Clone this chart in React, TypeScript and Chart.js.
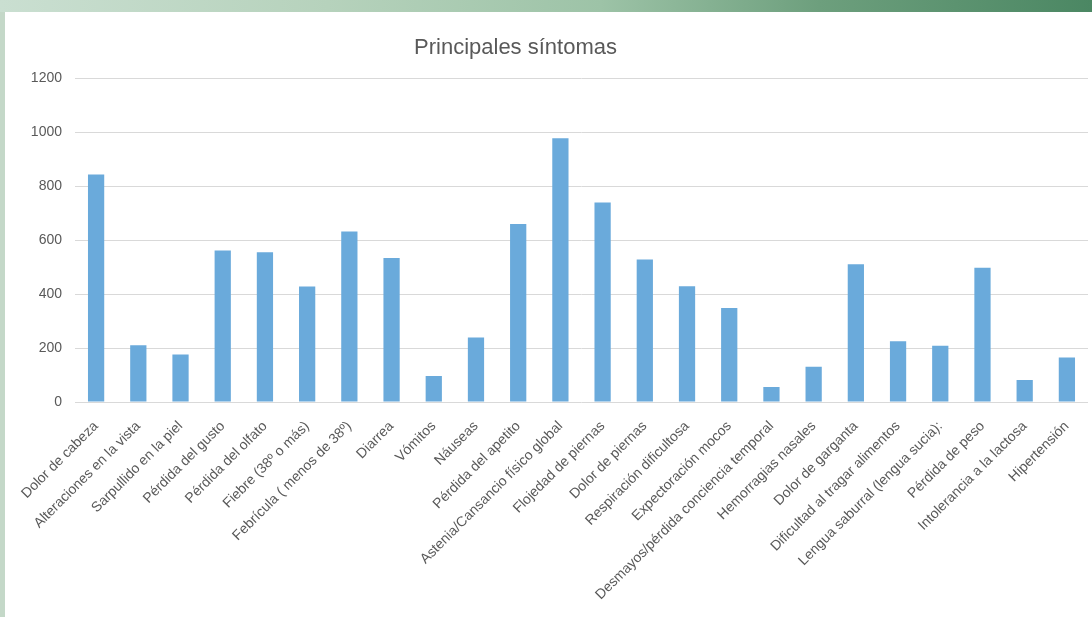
import React, { useEffect, useRef } from "react";
import { Chart, registerables } from "chart.js";

Chart.register(...registerables);

const chartTitle = "Principales síntomas";

const categories = [
  "Dolor de cabeza",
  "Alteraciones en la vista",
  "Sarpullido en la piel",
  "Pérdida del gusto",
  "Pérdida del olfato",
  "Fiebre (38º o más)",
  "Febrícula ( menos de 38º)",
  "Diarrea",
  "Vómitos",
  "Náuseas",
  "Pérdida del apetito",
  "Astenia/Cansancio físico global",
  "Flojedad de piernas",
  "Dolor de piernas",
  "Respiración dificultosa",
  "Expectoración mocos",
  "Desmayos/pérdida conciencia temporal",
  "Hemorragias nasales",
  "Dolor de garganta",
  "Dificultad al tragar alimentos",
  "Lengua saburral (lengua sucia):",
  "Pérdida de peso",
  "Intolerancia a la lactosa",
  "Hipertensión",
];

const values = [
  844, 210, 176, 562, 555, 428, 632, 534, 96, 239, 660, 978,
  740, 528, 429, 349, 56, 131, 511, 225, 209, 498, 82, 165,
];

const yMin = 0;
const yMax = 1200;
const yStep = 200;

const FONT = "'Liberation Sans', 'DejaVu Sans', sans-serif";
const TEXT_COLOR = "#595959";

// canvas spans x = -57 .. 1092 so the title centres where the reference's does
const CANVAS_LEFT = -57;
const CANVAS_W = 1092 - CANVAS_LEFT;
const CANVAS_TOP = 12;
const CANVAS_H = 617 - CANVAS_TOP;

export default function App() {
  const canvasRef = useRef<HTMLCanvasElement | null>(null);

  useEffect(() => {
    const canvas = canvasRef.current;
    if (!canvas) return;
    const chart = new Chart(canvas, {
      type: "bar",
      data: {
        labels: categories,
        datasets: [
          {
            label: "Síntomas",
            data: values,
            backgroundColor: "#6aaadb",
            borderWidth: 0,
            categoryPercentage: 1,
            barPercentage: 0.385,
          },
        ],
      },
      options: {
        responsive: false,
        animation: false,
        maintainAspectRatio: false,
        layout: { padding: { left: 0, right: 4, top: 0, bottom: 0 } },
        plugins: {
          legend: { display: false },
          tooltip: { enabled: false },
          title: {
            display: true,
            text: chartTitle,
            color: TEXT_COLOR,
            font: { family: FONT, size: 22, weight: "normal" },
            padding: { top: 23, bottom: 17 },
          },
        },
        scales: {
          x: {
            grid: { display: false, drawTicks: false },
            border: { display: false },
            ticks: {
              color: TEXT_COLOR,
              font: { family: FONT, size: 14 },
              maxRotation: 45,
              minRotation: 45,
              autoSkip: false,
              padding: 16,
            },
            afterFit: (scale: any) => {
              scale.height = 215;
              scale.paddingRight = 0;
              scale.paddingLeft = 0;
            },
          },
          y: {
            min: yMin,
            max: yMax,
            grid: { color: "#d9d9d9", lineWidth: 1, drawTicks: false },
            border: { display: false },
            ticks: {
              stepSize: yStep,
              color: TEXT_COLOR,
              font: { family: FONT, size: 14 },
              padding: 13,
              callback: (v: any) => String(v),
            },
            afterFit: (scale: any) => {
              scale.width = 75 - CANVAS_LEFT;
            },
          },
        },
      },
    });
    return () => chart.destroy();
  }, []);

  return (
    <div
      style={{
        position: "fixed",
        left: 0,
        top: 0,
        width: 1092,
        height: 617,
        overflow: "hidden",
        background:
          "linear-gradient(to right, #cadfd1 0%, #b6d2bc 30%, #9dc3a7 55%, #6d9f7d 75%, #4b8763 100%)",
      }}
    >
      <div
        style={{
          position: "absolute",
          left: 0,
          top: 12,
          width: 5,
          height: 605,
          background: "#c4d8c8",
        }}
      />
      <div
        style={{
          position: "absolute",
          left: 5,
          top: 12,
          width: 1087,
          height: 605,
          background: "#ffffff",
        }}
      />
      <canvas
        ref={canvasRef}
        width={CANVAS_W}
        height={CANVAS_H}
        style={{ display: "block", position: "absolute", left: CANVAS_LEFT, top: CANVAS_TOP }}
      />
    </div>
  );
}
